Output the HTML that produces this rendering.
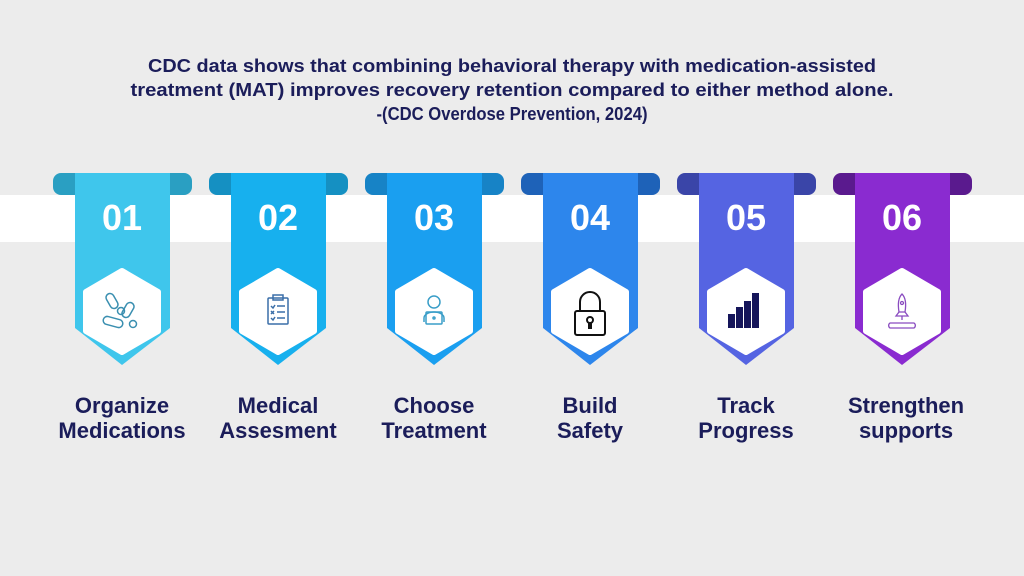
<!DOCTYPE html>
<html><head><meta charset="utf-8"><style>
html,body{margin:0;padding:0;background:#ececec}
svg{display:block}
text{font-family:"Liberation Sans",sans-serif;font-weight:bold}
</style></head><body>
<svg width="1024" height="576" viewBox="0 0 1024 576" xmlns="http://www.w3.org/2000/svg">
<rect width="1024" height="576" fill="#ececec"/>
<g fill="#1b1d5a" font-size="18" text-anchor="middle">
<text x="512" y="72" textLength="728" lengthAdjust="spacingAndGlyphs">CDC data shows that combining behavioral therapy with medication-assisted</text>
<text x="512" y="96" textLength="763" lengthAdjust="spacingAndGlyphs">treatment (MAT) improves recovery retention compared to either method alone.</text>
<text x="512" y="120" textLength="271" lengthAdjust="spacingAndGlyphs">-(CDC Overdose Prevention, 2024)</text>
</g>
<rect x="0" y="195" width="1024" height="47" fill="#ffffff"/>
<g>
<rect x="53" y="173" width="139" height="22" rx="8" fill="#2a9fc2"/>
<path d="M75 173H170V328L122 365L75 328Z" fill="#3fc6ec"/>
<rect x="209" y="173" width="139" height="22" rx="8" fill="#1590c2"/>
<path d="M231 173H326V328L278 365L231 328Z" fill="#17b0ee"/>
<rect x="365" y="173" width="139" height="22" rx="8" fill="#1783c6"/>
<path d="M387 173H482V328L434 365L387 328Z" fill="#1a9ff0"/>
<rect x="521" y="173" width="139" height="22" rx="8" fill="#1e62b8"/>
<path d="M543 173H638V328L590 365L543 328Z" fill="#2d86ec"/>
<rect x="677" y="173" width="139" height="22" rx="8" fill="#3a45a8"/>
<path d="M699 173H794V328L746 365L699 328Z" fill="#5564e2"/>
<rect x="833" y="173" width="139" height="22" rx="8" fill="#5a1a8e"/>
<path d="M855 173H950V328L902 365L855 328Z" fill="#8a2bd0"/>
</g>
<g fill="#ffffff" stroke="#ffffff" stroke-width="6" stroke-linejoin="round">
<path d="M122 271L158 292V331L122 352L86 331V292Z"/>
<path d="M278 271L314 292V331L278 352L242 331V292Z"/>
<path d="M434 271L470 292V331L434 352L398 331V292Z"/>
<path d="M590 271L626 292V331L590 352L554 331V292Z"/>
<path d="M746 271L782 292V331L746 352L710 331V292Z"/>
<path d="M902 271L938 292V331L902 352L866 331V292Z"/>
</g>
<g fill="#ffffff" font-size="36" text-anchor="middle">
<text x="122" y="230">01</text><text x="278" y="230">02</text><text x="434" y="230">03</text>
<text x="590" y="230">04</text><text x="746" y="230">05</text><text x="902" y="230">06</text>
</g>
<g fill="none" stroke="#3a8fb0" stroke-width="1.5">
<rect x="108" y="293" width="8" height="16" rx="4" transform="rotate(-30 112 301)"/>
<rect x="124" y="302" width="8" height="16" rx="4" transform="rotate(30 128 310)"/>
<rect x="103" y="318" width="20" height="8" rx="4" transform="rotate(15 113 322)"/>
<circle cx="121" cy="311" r="3.5"/><circle cx="133" cy="324" r="3.5"/>
</g>
<g fill="none" stroke="#3a6ea8" stroke-width="1.5">
<rect x="268" y="298" width="20" height="26" rx="1"/>
<rect x="273" y="295" width="10" height="5"/>
<path d="M277 306h8M277 312h8M277 318h8M271 306l2 2 2-3M271 311l3 3M274 311l-3 3M271 318l2 2 2-3"/>
</g>
<g fill="none" stroke="#3a9ec8" stroke-width="1.5">
<circle cx="434" cy="302" r="6"/>
<path d="M424 322v-4a10 6 0 0 1 20 0v4"/>
<rect x="426" y="312" width="16" height="12" rx="1"/>
<circle cx="434" cy="318" r="1"/>
</g>
<g fill="none" stroke="#111" stroke-width="2">
<path d="M580 311v-9a10 10 0 0 1 20 0v9"/>
<rect x="575" y="311" width="30" height="24" rx="2"/>
<circle cx="590" cy="320" r="3"/><path d="M589 323v5h2v-5"/>
</g>
<g fill="#15155a">
<rect x="728" y="314" width="7" height="14"/><rect x="736" y="307" width="7" height="21"/>
<rect x="744" y="301" width="7" height="27"/><rect x="752" y="293" width="7" height="35"/>
</g>
<g fill="none" stroke="#8a4cc0" stroke-width="1.3">
<path d="M902 294c-4 4-4 12-3 18h6c1-6 1-14-3-18z"/>
<circle cx="902" cy="303" r="1.5"/>
<path d="M899 312l-3 4h12l-3-4M902 316v4"/>
<path d="M890 323h24a3 3 0 0 1 0 5h-24a3 3 0 0 1 0-5z"/>
</g>
<g fill="#1b1d5a" font-size="22" text-anchor="middle">
<text x="122" y="413">Organize</text><text x="122" y="438">Medications</text>
<text x="278" y="413">Medical</text><text x="278" y="438">Assesment</text>
<text x="434" y="413">Choose</text><text x="434" y="438">Treatment</text>
<text x="590" y="413">Build</text><text x="590" y="438">Safety</text>
<text x="746" y="413">Track</text><text x="746" y="438">Progress</text>
<text x="906" y="413">Strengthen</text><text x="906" y="438">supports</text>
</g>
</svg>
</body></html>
